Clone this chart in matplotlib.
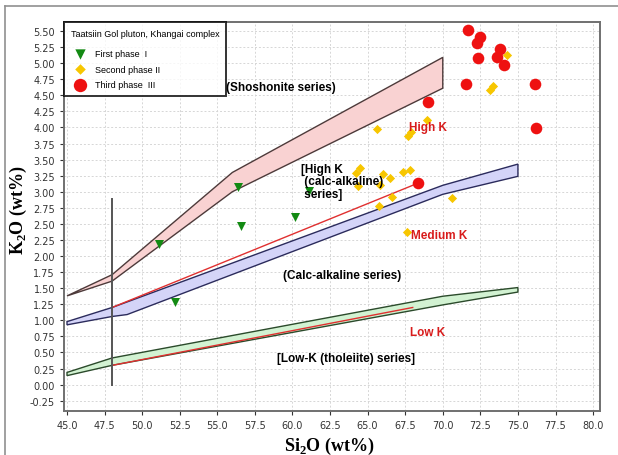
import numpy as np
import matplotlib
matplotlib.use('Agg')
import matplotlib.pyplot as plt

# boundary bands (SiO2, K2O)
shosh_up_x = [45, 48, 56, 70]
shosh_up_y = [1.38, 1.71, 3.30, 5.09]
shosh_lo_x = [45, 48, 56, 70]
shosh_lo_y = [1.38, 1.61, 3.00, 4.61]

med_up_x = [45, 48, 70, 75]
med_up_y = [0.98, 1.20, 3.10, 3.43]
med_lo_x = [45, 48, 49, 70, 75]
med_lo_y = [0.93, 1.06, 1.09, 2.96, 3.24]

low_up_x = [45, 48, 70, 75]
low_up_y = [0.19, 0.415, 1.375, 1.51]
low_lo_x = [45, 48, 70, 75]
low_lo_y = [0.14, 0.30, 1.24, 1.44]

hk_line_x = [48, 68]
hk_line_y = [1.20, 3.10]
lk_line_x = [48, 68]
lk_line_y = [0.30, 1.20]

vline_x = 48
vline_y = [0.0, 2.88]

# samples
phase1_x = [51.1, 52.2, 56.4, 56.6, 60.2, 61.1]
phase1_y = [2.18, 1.29, 3.07, 2.46, 2.60, 3.01]

phase2_x = [74.25, 73.37, 73.14, 68.93, 65.6, 67.7, 67.9, 64.5, 64.25, 64.38,
            66.05, 65.83, 66.52, 66.6, 65.78, 67.35, 67.84, 70.6, 67.6]
phase2_y = [5.13, 4.65, 4.58, 4.11, 3.98, 3.86, 3.93, 3.37, 3.29, 3.09,
            3.27, 3.10, 3.21, 2.92, 2.78, 3.31, 3.34, 2.90, 2.38]

phase3_x = [71.7, 72.48, 72.26, 73.81, 72.33, 73.59, 74.08, 71.53, 76.14, 76.2, 69.04, 68.37]
phase3_y = [5.51, 5.40, 5.31, 5.22, 5.08, 5.09, 4.97, 4.68, 4.68, 3.99, 4.40, 3.13]

xticks = np.arange(45, 80.1, 2.5)
yticks = np.arange(-0.25, 5.51, 0.25)

fig = plt.figure(figsize=(6.18, 4.56), dpi=100)
ax = fig.add_axes([64/618, 44/456, 536/618, 389/456])


def band(ux, uy, lx, ly, face, edge):
    px = list(ux) + list(lx[::-1])
    py = list(uy) + list(ly[::-1])
    ax.fill(px, py, facecolor=face, edgecolor=edge, linewidth=1.0, zorder=2)


band(shosh_up_x, shosh_up_y, shosh_lo_x, shosh_lo_y, '#f9d2d2', '#4d3a3a')
band(med_up_x, med_up_y, med_lo_x, med_lo_y, '#d4d4f8', '#2b2b5c')
band(low_up_x, low_up_y, low_lo_x, low_lo_y, '#d2f2d2', '#2b4a2b')

ax.plot(hk_line_x, hk_line_y, color='#e03030', lw=1.0, zorder=3)
ax.plot(lk_line_x, lk_line_y, color='#e03030', lw=1.0, zorder=3)
ax.plot([vline_x, vline_x], vline_y, color='#555555', lw=1.4, zorder=3)

ax.scatter(phase1_x, phase1_y, marker='v', s=42, color='#138a13', lw=0, zorder=4,
           label='First phase  I')
ax.scatter(phase2_x, phase2_y, marker='D', s=22, color='#f7c600', lw=0, zorder=4,
           label='Second phase II')
ax.scatter(phase3_x, phase3_y, marker='o', s=70, color='#ee1111', lw=0, zorder=4,
           label='Third phase  III')

# series labels
bold = dict(fontsize=8.5, fontweight='bold', family='Liberation Sans', zorder=5)
ax.text(55.6, 4.63, '(Shoshonite series)', ha='left', va='center', **bold)
ax.text(60.55, 3.45, '[High K\n (calc-alkaline)\n series]', ha='left', va='top',
        linespacing=1.05, **bold)
ax.text(59.35, 1.70, '(Calc-alkaline series)', ha='left', va='center', **bold)
ax.text(58.95, 0.41, '[Low-K (tholeiite) series]', ha='left', va='center', **bold)
red = dict(fontsize=8.5, fontweight='bold', family='Liberation Sans', color='#d81c1c', zorder=5)
ax.text(67.75, 4.00, 'High K', ha='left', va='center', **red)
ax.text(67.9, 2.32, 'Medium K', ha='left', va='center', **red)
ax.text(67.8, 0.82, 'Low K', ha='left', va='center', **red)

ax.set_xlim(44.8, 80.46)
ax.set_ylim(-0.41, 5.64)
ax.set_xticks(xticks)
ax.set_yticks(yticks)
ax.set_xticklabels([f'{v:.1f}' for v in xticks])
ax.set_yticklabels([f'{v:.2f}' for v in yticks])
ax.tick_params(labelsize=7, colors='#333333', length=3, width=0.8)
ax.grid(True, color='#d6d6d6', linestyle=(0, (2, 2)), linewidth=0.7)
ax.set_axisbelow(True)
for s in ax.spines.values():
    s.set_color('#707070')
    s.set_linewidth(1.4)

leg = ax.legend(loc='upper left', bbox_to_anchor=(0, 1), borderaxespad=0,
                title='Taatsiin Gol pluton, Khangai complex',
                title_fontsize=6.5, fancybox=False, frameon=True,
                handletextpad=0.7, labelspacing=0.75, borderpad=0.75,
                markerscale=1.15,
                prop={'family': 'Liberation Sans', 'size': 6.5})
leg._legend_box.align = 'left'
leg._legend_box.sep = 8
leg.get_title().set_family('Liberation Sans')
leg.get_frame().set_edgecolor('black')
leg.get_frame().set_linewidth(1.4)
leg.set_zorder(6)

lab = dict(fontsize=13, fontweight='bold', family='Liberation Serif', ha='center', va='center')
fig.text(18/618, 1 - 210/456, r'K$_{\mathregular{2}}$O (wt%)', rotation=90, **lab)
fig.text(329/618, 1 - 446/456, r'Si$_{\mathregular{2}}$O (wt%)', **lab)

# outer frame of the figure
fig.add_artist(plt.Line2D([5/618, 5/618], [0, 1 - 7/456], transform=fig.transFigure,
                          color='#909090', lw=1.2))
fig.add_artist(plt.Line2D([5/618, 1], [1 - 7/456, 1 - 7/456], transform=fig.transFigure,
                          color='#909090', lw=1.2))

fig.savefig('out.png', dpi=100)
